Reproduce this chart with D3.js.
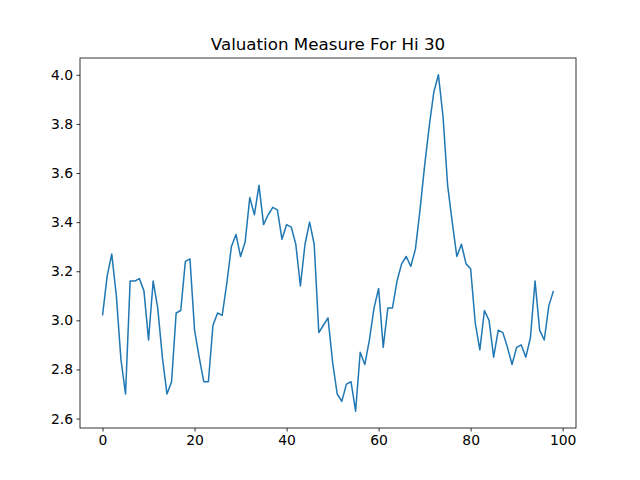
<!DOCTYPE html>
<html><head><meta charset="utf-8">
<script src="https://cdn.jsdelivr.net/npm/d3@7"></script>
<style>body{margin:0;background:#fff}text{font-family:"DejaVu Sans",sans-serif}</style>
</head><body><svg id="c" width="640" height="480"></svg>
<script>
const values=[3.02,3.18,3.27,3.10,2.84,2.70,3.16,3.16,3.17,3.12,2.92,3.16,3.05,2.85,2.70,2.75,3.03,3.04,3.24,3.25,
2.96,2.85,2.75,2.75,2.98,3.03,3.02,3.15,3.30,3.35,3.26,3.32,3.50,3.43,3.55,3.39,3.43,3.46,3.45,3.33,
3.39,3.38,3.31,3.14,3.31,3.40,3.31,2.95,2.98,3.01,2.83,2.70,2.67,2.74,2.75,2.63,2.87,2.82,2.92,3.05,
3.13,2.89,3.05,3.05,3.16,3.23,3.26,3.22,3.29,3.45,3.63,3.79,3.93,4.00,3.83,3.55,3.40,3.26,3.31,3.23,
3.21,2.99,2.88,3.04,3.00,2.85,2.96,2.95,2.89,2.82,2.89,2.90,2.85,2.93,3.16,2.96,2.92,3.06,3.12];
const xTicks=[0,20,40,60,80,100];
const yTicks=[2.6,2.8,3.0,3.2,3.4,3.6,3.8,4.0];
const title="Valuation Measure For Hi 30";
const L=80,T=58,W=496,H=370;
const svg=d3.select("#c");
const x=d3.scaleLinear().domain([-4.9,102.9]).range([L,L+W]);
const y=d3.scaleLinear().domain([2.5615,4.0685]).range([T+H,T]);
svg.append("path").datum(values).attr("fill","none").attr("stroke","#1f77b4").attr("stroke-width",1.5)
 .attr("stroke-linejoin","round").attr("d",d3.line().x((d,i)=>x(i)).y(d=>y(d)));
const ax=svg.append("g").attr("transform",`translate(0,${T+H})`).call(d3.axisBottom(x).tickValues(xTicks).tickSize(3.5).tickPadding(3.5).tickFormat(d3.format("d")));
const ay=svg.append("g").attr("transform",`translate(${L},0)`).call(d3.axisLeft(y).tickValues(yTicks).tickSize(3.5).tickPadding(3.5).tickFormat(d3.format(".1f")));
[ax,ay].forEach(g=>{g.select(".domain").remove();g.selectAll("text").attr("font-size",13.9).attr("font-family","DejaVu Sans").attr("fill","#000");g.selectAll("line").attr("stroke","#000").attr("stroke-width",0.8);});
svg.append("rect").attr("x",L).attr("y",T).attr("width",W).attr("height",H).attr("fill","none").attr("stroke","#000").attr("stroke-width",0.8);
svg.append("text").attr("x",L+W/2).attr("y",T-8).attr("text-anchor","middle").attr("font-size",16.7).text(title);
</script></body></html>
